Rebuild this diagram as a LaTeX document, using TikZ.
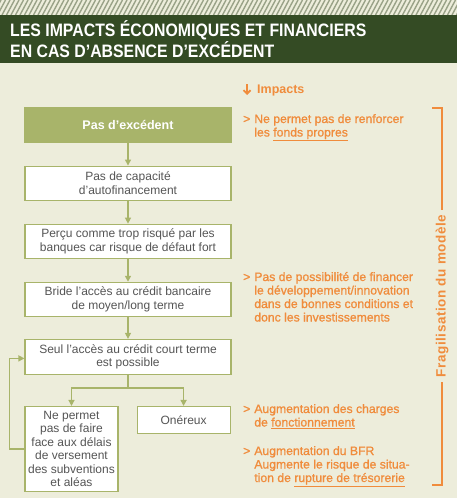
\documentclass[tikz,border=0pt]{standalone}
\usepackage{fontspec}
\setmainfont{Liberation Sans}
\newfontfamily\titlefont{Liberation Sans}[FakeStretch=0.88]
\newfontfamily\medfont{Liberation Sans}[FakeBold=1]
\usetikzlibrary{arrows.meta, positioning}
\definecolor{fcbeige}{HTML}{EDEDDB}
\definecolor{fcdark}{HTML}{344B24}
\definecolor{fcolive}{HTML}{A8B46A}
\definecolor{fcorange}{HTML}{F08C3C}
\definecolor{fctext}{HTML}{555555}
\definecolor{fchatch}{HTML}{9AA288}

\begin{document}
\begin{tikzpicture}[x=1pt, y=-1pt,
    stepbox/.style={rectangle, draw=fcolive, fill=white, line width=1.1pt,
                    minimum width=206pt, minimum height=34pt, inner sep=1pt,
                    align=center, text=fctext, font=\fontsize{12}{13.5}\selectfont},
    firstbox/.style={stepbox, fill=fcolive, text=white,
                     font=\bfseries\fontsize{12.5}{14}\selectfont},
    narrowbox/.style={stepbox, minimum width=93pt, minimum height=#1},
    impact/.style={anchor=base west, inner sep=0pt, text=fcorange,
                   font=\medfont\fontsize{12.2}{13.5}\selectfont},
    flow/.style={-{Triangle[width=6pt,length=6pt]}, draw=fcolive, line width=1.3pt},
    bracket/.style={draw=fcorange, line width=1.3pt}
  ]
    \useasboundingbox (0,0) rectangle (457,498);
    % background, hatched strip and title band
    \fill[fcbeige] (0,0) rectangle (457,498);
    \begin{scope}
      \clip (0,0) rectangle (457,15);
      \foreach \i in {-16,-11.5,...,470}
        \draw[fchatch, line width=1.4pt] (\i,15) -- (\i+8,0);
    \end{scope}
    \fill[fcdark] (0,15) rectangle (457,63);
    \node[anchor=base west, inner sep=0pt, text=white,
          font=\titlefont\bfseries\fontsize{18}{20}\selectfont] (title) at (10,36)
      {\begin{tabular}[t]{@{}l@{}}LES IMPACTS ÉCONOMIQUES ET FINANCIERS\\EN CAS D’ABSENCE D’EXCÉDENT\end{tabular}};

    % chain of causes
    \node[firstbox] (excedent) at (128,125) {Pas d’excédent};
    \node[stepbox, below=23pt of excedent] (autofin) {Pas de capacité\\d’autofinancement};
    \node[stepbox, below=23pt of autofin] (risque) {Perçu comme trop risqué par les\\banques car risque de défaut fort};
    \node[stepbox, below=23pt of risque] (bride) {Bride l’accès au crédit bancaire\\de moyen/long terme};
    \node[stepbox, below=22pt of bride, minimum height=35pt] (seul) {Seul l’accès au crédit court terme\\est possible};
    \node[narrowbox=85pt, anchor=north west] (delais) at ([yshift=-31pt]seul.south west)
      {Ne permet\\pas de faire\\face aux délais\\de versement\\des subventions\\et aléas};
    \node[narrowbox=27pt, right=18pt of delais.north east, anchor=north west] (onereux) {Onéreux};

    \draw[flow] (excedent) -- (autofin);
    \draw[flow] (autofin) -- (risque);
    \draw[flow] (risque) -- (bride);
    \draw[flow] (bride) -- (seul);
    \draw[flow] (seul.south) -- ++(0,13) -| (delais.north);
    \draw[flow] (seul.south) -- ++(0,13) -| (onereux.north);
    \draw[flow] (delais.west) -- ++(-15,0) |- ([yshift=-1.5pt]seul.west);

    % impacts column
    \node[anchor=base west, inner sep=0pt, text=fcorange,
          font=\bfseries\fontsize{12.5}{14}\selectfont] (impacts) at (257,93) {Impacts};
    \draw[-{Straight Barb[length=3.5pt,width=7pt]}, fcorange, line width=1.8pt]
      ([xshift=-10pt,yshift=9pt]impacts.base west) -- ([xshift=-10pt,yshift=-2pt]impacts.base west);
    \node[impact] (fonds) at (243,123)
      {\begin{tabular}[t]{@{}l@{\hspace{4pt}}l@{}}>&Ne permet pas de renforcer\\&les \underline{fonds propres}\end{tabular}};
    \node[impact] (financer) at (243,281)
      {\begin{tabular}[t]{@{}l@{\hspace{4pt}}l@{}}>&Pas de possibilité de financer\\&le développement/innovation\\&dans de bonnes conditions et\\&donc les investissements\end{tabular}};
    \node[impact] (charges) at (243,413)
      {\begin{tabular}[t]{@{}l@{\hspace{4pt}}l@{}}>&Augmentation des charges\\&de \underline{fonctionnement}\end{tabular}};
    \node[impact] (bfr) at (243,455)
      {\begin{tabular}[t]{@{}l@{\hspace{4pt}}l@{}}>&Augmentation du BFR\\&Augmente le risque de situa-\\&tion de \underline{rupture de trésorerie}\end{tabular}};

    % bracket
    \coordinate (brtop) at (442,108);
    \coordinate (brbot) at (442,485);
    \draw[bracket] ([xshift=-10pt]brtop) -- (brtop) -- (brbot) -- ([xshift=-10pt]brbot);
    \node[rotate=90, fill=fcbeige, inner xsep=5pt, inner ysep=2pt, text=fcorange,
          font=\bfseries\fontsize{13.5}{15}\selectfont\addfontfeature{LetterSpace=4}] (fragil) at (442,296)
      {Fragilisation du modèle};
  \end{tikzpicture}
\end{document}
